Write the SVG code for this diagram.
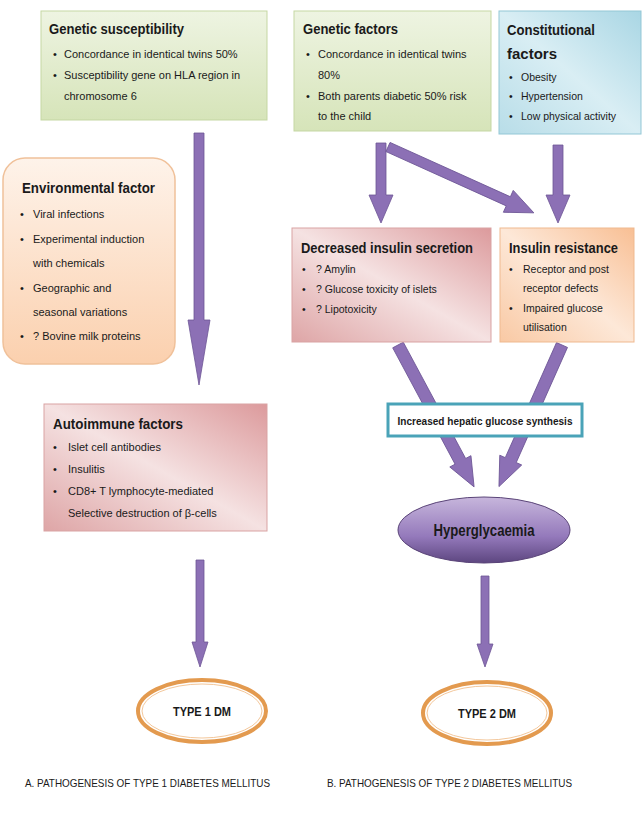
<svg xmlns="http://www.w3.org/2000/svg" width="644" height="820" viewBox="0 0 644 820">
<defs>
<linearGradient id="gGreen" x1="0" y1="0" x2="0" y2="1"><stop offset="0" stop-color="#eef4e2"/><stop offset="1" stop-color="#d6e4b9"/></linearGradient>
<linearGradient id="gBlue" x1="1" y1="0" x2="0" y2="1"><stop offset="0" stop-color="#a9d6e4"/><stop offset="0.5" stop-color="#d9eef4"/><stop offset="1" stop-color="#b8dde8"/></linearGradient>
<linearGradient id="gPeach" x1="0" y1="0" x2="0" y2="1"><stop offset="0" stop-color="#fef3ea"/><stop offset="1" stop-color="#fbd0ae"/></linearGradient>
<linearGradient id="gRed" x1="1" y1="0" x2="0" y2="1"><stop offset="0" stop-color="#dc9a9c"/><stop offset="0.5" stop-color="#f5e2e2"/><stop offset="1" stop-color="#dea5a6"/></linearGradient>
<linearGradient id="gOrange" x1="1" y1="0" x2="0" y2="1"><stop offset="0" stop-color="#f8bf94"/><stop offset="0.5" stop-color="#fde8d8"/><stop offset="1" stop-color="#f9c9a4"/></linearGradient>
<linearGradient id="gPurple" x1="0" y1="0" x2="0" y2="1"><stop offset="0" stop-color="#c7b6dc"/><stop offset="0.6" stop-color="#9479bb"/><stop offset="1" stop-color="#5d4680"/></linearGradient>
<style>
text{font-family:"Liberation Sans",Arial,sans-serif;fill:#1a1a1a}
.h{font-weight:bold;font-size:15px}
.b{font-size:11px}
.s{font-size:10.5px}
.arr{fill:#8c70b5;stroke:#6d5595;stroke-width:0.8}
</style>
</defs>
<rect width="644" height="820" fill="#fff"/>

<g id="connectors">
<path class="arr" transform="translate(199,133) rotate(90)" d="M0,-5 L187,-5 L187,-11 L252,0 L187,11 L187,5 L0,5Z"/>
<path class="arr" transform="translate(381,143) rotate(90)" d="M0,-5 L52,-5 L52,-12 L80,0 L52,12 L52,5 L0,5Z"/>
<path class="arr" transform="translate(388,147) rotate(24.3)" d="M0,-5 L132,-5 L132,-12 L160,0 L132,12 L132,5 L0,5Z"/>
<path class="arr" transform="translate(558,145) rotate(90)" d="M0,-5 L50,-5 L50,-12 L78,0 L50,12 L50,5 L0,5Z"/>
<path class="arr" transform="translate(398,345) rotate(61.8)" d="M0,-6 L132,-6 L132,-12 L161,0 L132,12 L132,6 L0,6Z"/>
<path class="arr" transform="translate(562,345) rotate(114)" d="M0,-6 L126,-6 L126,-12 L155,0 L126,12 L126,6 L0,6Z"/>
<path class="arr" transform="translate(200,560) rotate(90)" d="M0,-4 L82,-4 L82,-8 L107,0 L82,8 L82,4 L0,4Z"/>
<path class="arr" transform="translate(485,576) rotate(90)" d="M0,-4 L68,-4 L68,-8 L91,0 L68,8 L68,4 L0,4Z"/>
</g>

<g id="genetic-susceptibility">
<rect x="41" y="11" width="226" height="109" fill="url(#gGreen)" stroke="#c5d7a3"/>
<text class="h" x="49" y="34" textLength="135" lengthAdjust="spacingAndGlyphs">Genetic susceptibility</text>
<text class="b" x="53" y="58">•</text><text class="b" x="64" y="58">Concordance in identical twins 50%</text>
<text class="b" x="53" y="79">•</text><text class="b" x="64" y="79">Susceptibility gene on HLA region in</text>
<text class="b" x="64" y="100">chromosome 6</text>
</g>

<g id="genetic-factors">
<rect x="294" y="11" width="197" height="120" fill="url(#gGreen)" stroke="#c5d7a3"/>
<text class="h" x="303" y="34" textLength="95" lengthAdjust="spacingAndGlyphs">Genetic factors</text>
<text class="b" x="306" y="58">•</text><text class="b" x="318" y="58">Concordance in identical twins</text>
<text class="b" x="318" y="79">80%</text>
<text class="b" x="306" y="100">•</text><text class="b" x="318" y="100">Both parents diabetic 50% risk</text>
<text class="b" x="318" y="120">to the child</text>
</g>

<g id="constitutional-factors">
<rect x="499" y="11" width="142" height="123" fill="url(#gBlue)" stroke="#93c7d6"/>
<text class="h" x="507" y="35" textLength="88" lengthAdjust="spacingAndGlyphs">Constitutional</text>
<text class="h" x="507" y="59">factors</text>
<text class="s" x="509" y="81">•</text><text class="s" x="521" y="81">Obesity</text>
<text class="s" x="509" y="100">•</text><text class="s" x="521" y="100">Hypertension</text>
<text class="s" x="509" y="120">•</text><text class="s" x="521" y="120">Low physical activity</text>
</g>

<g id="environmental-factor">
<rect x="3" y="158" width="172" height="206" rx="22" fill="url(#gPeach)" stroke="#f0c19a" stroke-width="1.5"/>
<text class="h" x="22" y="193" textLength="133" lengthAdjust="spacingAndGlyphs">Environmental factor</text>
<text class="b" x="20" y="218">•</text><text class="b" x="33" y="218">Viral infections</text>
<text class="b" x="20" y="243">•</text><text class="b" x="33" y="243">Experimental induction</text>
<text class="b" x="33" y="267">with chemicals</text>
<text class="b" x="20" y="292">•</text><text class="b" x="33" y="292">Geographic and</text>
<text class="b" x="33" y="316">seasonal variations</text>
<text class="b" x="20" y="340">•</text><text class="b" x="33" y="340">? Bovine milk proteins</text>
</g>

<g id="decreased-insulin-secretion">
<rect x="292" y="228" width="199" height="114" fill="url(#gRed)" stroke="#d9a3a3"/>
<text class="h" x="301" y="253" textLength="172" lengthAdjust="spacingAndGlyphs">Decreased insulin secretion</text>
<text class="s" x="302" y="273">•</text><text class="s" x="316" y="273">? Amylin</text>
<text class="s" x="302" y="293">•</text><text class="s" x="316" y="293">? Glucose toxicity of islets</text>
<text class="s" x="302" y="313">•</text><text class="s" x="316" y="313">? Lipotoxicity</text>
</g>

<g id="insulin-resistance">
<rect x="500" y="228" width="134" height="114" fill="url(#gOrange)" stroke="#efb98f"/>
<text class="h" x="509" y="253" textLength="109" lengthAdjust="spacingAndGlyphs">Insulin resistance</text>
<text class="s" x="509" y="273">•</text><text class="s" x="523" y="273">Receptor and post</text>
<text class="s" x="523" y="292">receptor defects</text>
<text class="s" x="509" y="312">•</text><text class="s" x="523" y="312">Impaired glucose</text>
<text class="s" x="523" y="331">utilisation</text>
</g>

<g id="hepatic-glucose">
<rect x="388" y="404" width="194" height="32" fill="#fff" stroke="#4aa3b8" stroke-width="3"/>
<text x="485" y="425" text-anchor="middle" font-size="10.5" font-weight="bold" textLength="175" lengthAdjust="spacingAndGlyphs">Increased hepatic glucose synthesis</text>
</g>

<g id="autoimmune-factors">
<rect x="44" y="404" width="223" height="127" fill="url(#gRed)" stroke="#d9a3a3"/>
<text class="h" x="53" y="429" textLength="130" lengthAdjust="spacingAndGlyphs">Autoimmune factors</text>
<text class="b" x="53" y="451">•</text><text class="b" x="68" y="451">Islet cell antibodies</text>
<text class="b" x="53" y="473">•</text><text class="b" x="68" y="473">Insulitis</text>
<text class="b" x="53" y="495">•</text><text class="b" x="68" y="495">CD8+ T lymphocyte-mediated</text>
<text class="b" x="68" y="517">Selective destruction of β-cells</text>
</g>

<g id="hyperglycaemia">
<ellipse cx="484" cy="530" rx="86" ry="33" fill="url(#gPurple)" stroke="#5a4478"/>
<text x="484" y="536" text-anchor="middle" font-size="16" font-weight="bold" textLength="101" lengthAdjust="spacingAndGlyphs">Hyperglycaemia</text>
</g>

<g id="type1">
<ellipse cx="202" cy="711" rx="64" ry="31" fill="#fff" stroke="#e39a4f" stroke-width="4"/>
<ellipse cx="202" cy="711" rx="60" ry="27" fill="none" stroke="#f3c79b" stroke-width="1"/>
<text x="202" y="716" text-anchor="middle" font-size="12" font-weight="bold" textLength="58" lengthAdjust="spacingAndGlyphs">TYPE 1 DM</text>
</g>

<g id="type2">
<ellipse cx="487" cy="713" rx="64" ry="31" fill="#fff" stroke="#e39a4f" stroke-width="4"/>
<ellipse cx="487" cy="713" rx="60" ry="27" fill="none" stroke="#f3c79b" stroke-width="1"/>
<text x="487" y="718" text-anchor="middle" font-size="12" font-weight="bold" textLength="58" lengthAdjust="spacingAndGlyphs">TYPE 2 DM</text>
</g>

<g id="captions">
<text x="25" y="787" font-size="11" textLength="245" lengthAdjust="spacingAndGlyphs">A.  PATHOGENESIS OF TYPE 1 DIABETES MELLITUS</text>
<text x="327" y="787" font-size="11" textLength="245" lengthAdjust="spacingAndGlyphs">B.  PATHOGENESIS OF TYPE 2 DIABETES MELLITUS</text>
</g>
</svg>
